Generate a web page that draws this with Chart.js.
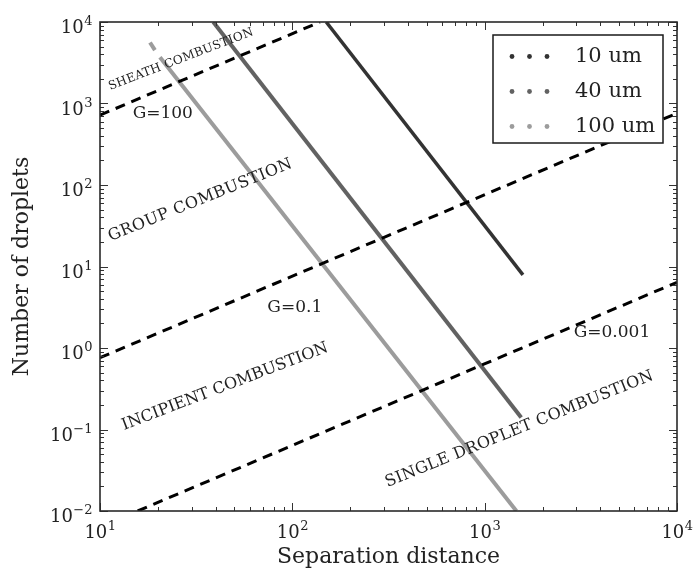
<!DOCTYPE html>
<html>
<head>
<meta charset="utf-8">
<script src="https://cdn.jsdelivr.net/npm/chart.js@4.4.1/dist/chart.umd.min.js"></script>
<style>
  html, body { margin: 0; padding: 0; background: #fff; }
  canvas { display: block; }
</style>
</head>
<body>
<canvas id="combustionChart" width="693" height="570"></canvas>
<script>
// Data (separation distance vs number of droplets)
const gLabels = ["G=100", "G=0.1", "G=0.001"];
const g100Line = [{ x: 10, y: 720 }, { x: 139, y: 10000 }];
const g01Line = [{ x: 10, y: 0.76 }, { x: 10000, y: 760 }];
const g0001Line = [{ x: 15.7, y: 0.01 }, { x: 10000, y: 6.4 }];

const dropletLabels = ["10 um", "40 um", "100 um"];
const droplet10 = [{ x: 150, y: 10000 }, { x: 1581, y: 7.9 }];
const droplet40 = [{ x: 38.8, y: 10000 }, { x: 1549, y: 0.14 }];
// small separate piece at the top, then a gap, then the solid run
const droplet100 = [{ x: 18.2, y: 5600 }, { x: 19.3, y: 4510 }, { x: 20.5, y: 3700 }, { x: 1462, y: 0.01 }];
const dropletColors = ["#333333", "#626262", "#9c9c9c"];

const xTickValues = [10, 100, 1000, 10000];
const yTickValues = [0.01, 0.1, 1, 10, 100, 1000, 10000];

// Region labels, placed in data coordinates
const regionLabels = [
  { text: "SHEATH COMBUSTION", x: 26.4, y: 3475, angle: -21, size: 12, spacing: 0.3 },
  { text: "G=100", x: 21.2, y: 762, angle: 0, size: 17, spacing: 0 },
  { text: "GROUP COMBUSTION", x: 33.3, y: 65, angle: -22, size: 16, spacing: 0.5 },
  { text: "G=0.1", x: 103, y: 3.1, angle: 0, size: 17, spacing: 0 },
  { text: "INCIPIENT COMBUSTION", x: 44.7, y: 0.335, angle: -21, size: 16, spacing: 0 },
  { text: "G=0.001", x: 4590, y: 1.55, angle: 0, size: 17, spacing: 0 },
  { text: "SINGLE DROPLET COMBUSTION", x: 1517, y: 0.101, angle: -22, size: 16, spacing: 0.3 },
];

const serif = "'DejaVu Serif', serif";
const textColor = "#222222";

// minor ticks: 2..9 within each decade
function minorTicks(majors) {
  const out = [];
  for (let i = 0; i < majors.length - 1; i++) {
    for (let k = 2; k <= 9; k++) out.push(majors[i] * k);
  }
  return out;
}

function exponentText(v) {
  const e = Math.round(Math.log10(v));
  return e < 0 ? "\u2212" + Math.abs(e) : String(e);
}

const frameAndTicks = {
  id: "frameAndTicks",
  afterDatasetsDraw(chart) {
    const { ctx, chartArea: a, scales } = chart;
    ctx.save();

    // region labels
    ctx.fillStyle = textColor;
    ctx.textAlign = "center";
    ctx.textBaseline = "middle";
    regionLabels.forEach((lab) => {
      const px = scales.x.getPixelForValue(lab.x);
      const py = scales.y.getPixelForValue(lab.y);
      ctx.save();
      ctx.font = lab.size + "px " + serif;
      ctx.letterSpacing = lab.spacing + "px";
      ctx.translate(px, py);
      ctx.rotate((lab.angle * Math.PI) / 180);
      ctx.fillText(lab.text, 0, 0);
      ctx.restore();
    });

    // inside ticks on all four sides
    ctx.strokeStyle = "#333";
    ctx.lineWidth = 1;
    const drawX = (vals, len) => {
      vals.forEach((v) => {
        const px = Math.round(scales.x.getPixelForValue(v)) + 0.5;
        ctx.beginPath();
        ctx.moveTo(px, a.bottom);
        ctx.lineTo(px, a.bottom - len);
        ctx.moveTo(px, a.top);
        ctx.lineTo(px, a.top + len);
        ctx.stroke();
      });
    };
    const drawY = (vals, len) => {
      vals.forEach((v) => {
        const py = Math.round(scales.y.getPixelForValue(v)) + 0.5;
        ctx.beginPath();
        ctx.moveTo(a.left, py);
        ctx.lineTo(a.left + len, py);
        ctx.moveTo(a.right, py);
        ctx.lineTo(a.right - len, py);
        ctx.stroke();
      });
    };
    drawX(xTickValues, 8);
    drawX(minorTicks(xTickValues), 4);
    drawY(yTickValues, 8);
    drawY(minorTicks(yTickValues), 4);

    // frame
    ctx.lineWidth = 1.6;
    ctx.strokeStyle = "#2a2a2a";
    ctx.strokeRect(a.left, a.top, a.right - a.left, a.bottom - a.top);

    // tick labels 10^n
    ctx.fillStyle = textColor;
    ctx.textAlign = "left";
    ctx.textBaseline = "alphabetic";
    const baseFont = "18px " + serif;
    const expFont = "13px " + serif;
    const measure = (v) => {
      ctx.font = baseFont;
      const w1 = ctx.measureText("10").width;
      ctx.font = expFont;
      const w2 = ctx.measureText(exponentText(v)).width;
      return [w1, w2];
    };
    const drawLabel = (v, x0, baseY) => {
      const [w1] = measure(v);
      ctx.font = baseFont;
      ctx.fillText("10", x0, baseY);
      ctx.font = expFont;
      ctx.fillText(exponentText(v), x0 + w1 + 0.5, baseY - 8);
    };
    yTickValues.forEach((v) => {
      const py = scales.y.getPixelForValue(v);
      const [w1, w2] = measure(v);
      drawLabel(v, a.left - 8 - (w1 + w2), py + 11.3);
    });
    xTickValues.forEach((v) => {
      const px = scales.x.getPixelForValue(v);
      const [w1, w2] = measure(v);
      drawLabel(v, px - (w1 + w2) / 2, a.bottom + 27);
    });

    // legend box inside the plot
    const boxW = 170, boxH = 108;
    const bx = a.right - 14 - boxW, by = a.top + 13;
    ctx.fillStyle = "#fff";
    ctx.fillRect(bx, by, boxW, boxH);
    ctx.lineWidth = 1.5;
    ctx.strokeStyle = "#1a1a1a";
    ctx.strokeRect(bx, by, boxW, boxH);
    const entries = chart.data.datasets.filter((d) => d.inLegend);
    entries.forEach((d, i) => {
      const cy = by + 21.5 + i * 35;
      ctx.fillStyle = d.borderColor;
      [0, 17.5, 35].forEach((dx) => {
        ctx.beginPath();
        ctx.arc(bx + 19 + dx, cy, 2.4, 0, Math.PI * 2);
        ctx.fill();
      });
      ctx.fillStyle = textColor;
      ctx.font = "21px " + serif;
      ctx.textBaseline = "middle";
      ctx.fillText(d.label, bx + 82, cy);
    });

    ctx.restore();
  },
};

const dashedStyle = {
  borderColor: "#000",
  borderWidth: 3,
  borderDash: [10, 7],
  pointRadius: 0,
  order: 0,
};

const chartData = {
  datasets: [
    { label: gLabels[0], data: g100Line, ...dashedStyle },
    { label: gLabels[1], data: g01Line, ...dashedStyle },
    { label: gLabels[2], data: g0001Line, ...dashedStyle },
    { label: dropletLabels[0], data: droplet10, borderColor: dropletColors[0], borderWidth: 3.5, pointRadius: 0, order: 1, inLegend: true },
    { label: dropletLabels[1], data: droplet40, borderColor: dropletColors[1], borderWidth: 4, pointRadius: 0, order: 1, inLegend: true },
    {
      label: dropletLabels[2], data: droplet100, borderColor: dropletColors[2], borderWidth: 4, pointRadius: 0, order: 1, inLegend: true,
      segment: { borderColor: (c) => (c.p0DataIndex === 1 ? "rgba(0,0,0,0)" : undefined) },
    },
  ],
};

const axisTitle = (text, padding) => ({
  display: true,
  text: text,
  color: textColor,
  font: { family: serif, size: 22, weight: "normal" },
  padding: padding,
});

new Chart(document.getElementById("combustionChart").getContext("2d"), {
  type: "line",
  data: chartData,
  options: {
    responsive: false,
    animation: false,
    devicePixelRatio: 1,
    layout: { padding: { top: 22, right: 16, left: 0, bottom: 0 } },
    plugins: { legend: { display: false }, tooltip: { enabled: false } },
    elements: { line: { tension: 0, borderCapStyle: "butt" } },
    scales: {
      x: {
        type: "logarithmic",
        min: 10,
        max: 10000,
        afterBuildTicks: (s) => { s.ticks = xTickValues.map((v) => ({ value: v })); },
        afterFit: (s) => { s.height = 59; },
        ticks: { display: false },
        grid: { display: false },
        border: { display: false },
        title: axisTitle("Separation distance", { top: 0, bottom: 0 }),
      },
      y: {
        type: "logarithmic",
        min: 0.01,
        max: 10000,
        afterBuildTicks: (s) => { s.ticks = yTickValues.map((v) => ({ value: v })); },
        afterFit: (s) => { s.width = 100; },
        ticks: { display: false },
        grid: { display: false },
        border: { display: false },
        title: axisTitle("Number of droplets", { top: 9, bottom: 0 }),
      },
    },
  },
  plugins: [frameAndTicks],
});
</script>
</body>
</html>
